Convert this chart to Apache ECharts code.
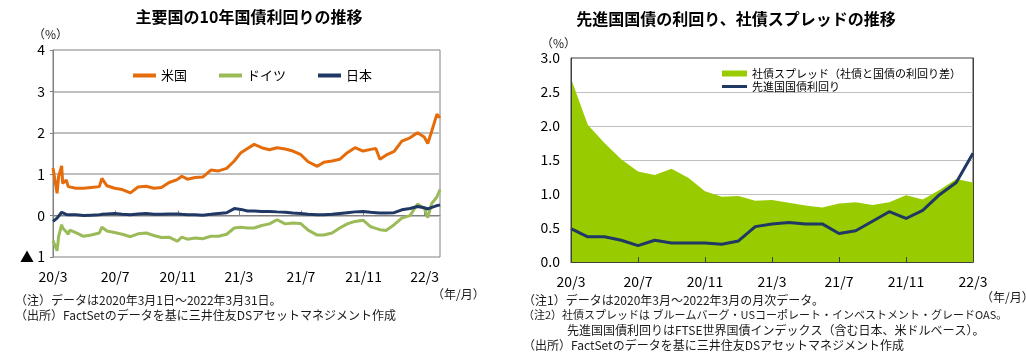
<!DOCTYPE html>
<html><head><meta charset="utf-8">
<script src="https://cdn.jsdelivr.net/npm/echarts@6/dist/echarts.min.js"></script>
<style>html,body{margin:0;padding:0;background:#fff}#c{width:1026px;height:358px}</style>
</head><body><div id="c"></div>
<script>
// ---- Left chart: 10-year government bond yields (%) ----
const dates = ['2020-03-01','2020-03-09','2020-03-12','2020-03-18','2020-03-20','2020-03-27','2020-03-31','2020-04-03','2020-04-15','2020-04-30','2020-05-15','2020-05-31','2020-06-05','2020-06-15','2020-06-30','2020-07-15','2020-07-31','2020-08-15','2020-08-31','2020-09-15','2020-09-30','2020-10-15','2020-10-31','2020-11-09','2020-11-20','2020-12-05','2020-12-20','2021-01-05','2021-01-20','2021-02-05','2021-02-20','2021-03-05','2021-03-18','2021-03-31','2021-04-15','2021-04-30','2021-05-15','2021-05-31','2021-06-15','2021-06-30','2021-07-15','2021-08-02','2021-08-15','2021-08-31','2021-09-15','2021-09-30','2021-10-15','2021-10-31','2021-11-15','2021-11-25','2021-12-03','2021-12-15','2021-12-31','2022-01-15','2022-01-31','2022-02-15','2022-02-28','2022-03-07','2022-03-15','2022-03-25','2022-03-31'];
const usYield = [1.15,0.54,0.94,1.20,0.78,0.86,0.70,0.66,0.66,0.66,0.68,0.70,0.90,0.72,0.66,0.63,0.55,0.69,0.71,0.66,0.68,0.80,0.87,0.95,0.88,0.92,0.93,1.10,1.08,1.14,1.32,1.52,1.62,1.72,1.64,1.59,1.64,1.61,1.56,1.48,1.30,1.19,1.29,1.32,1.36,1.52,1.64,1.56,1.60,1.62,1.36,1.46,1.55,1.80,1.88,2.00,1.90,1.74,2.05,2.45,2.36];
const deYield = [-0.60,-0.85,-0.51,-0.22,-0.30,-0.39,-0.45,-0.35,-0.41,-0.50,-0.47,-0.42,-0.28,-0.37,-0.41,-0.45,-0.51,-0.44,-0.42,-0.48,-0.53,-0.52,-0.62,-0.52,-0.57,-0.54,-0.56,-0.50,-0.50,-0.45,-0.30,-0.28,-0.30,-0.30,-0.24,-0.20,-0.10,-0.20,-0.18,-0.19,-0.35,-0.47,-0.47,-0.42,-0.30,-0.20,-0.14,-0.11,-0.27,-0.31,-0.34,-0.36,-0.22,-0.06,0.00,0.28,0.18,-0.05,0.30,0.45,0.63];
const jpYield = [-0.14,-0.06,-0.02,0.08,0.10,0.03,0.02,0.02,0.02,0.00,0.01,0.02,0.03,0.04,0.05,0.03,0.02,0.04,0.05,0.03,0.03,0.04,0.04,0.03,0.02,0.02,0.01,0.03,0.05,0.07,0.17,0.15,0.11,0.11,0.10,0.10,0.09,0.08,0.06,0.05,0.03,0.02,0.02,0.03,0.05,0.07,0.09,0.10,0.08,0.07,0.06,0.06,0.07,0.14,0.17,0.22,0.19,0.16,0.20,0.24,0.26];
const leftTickDates = ['2020-03-01','2020-07-01','2020-11-01','2021-03-01','2021-07-01','2021-11-01','2022-03-01'];
const leftStart = '2020-03-01', leftEnd = '2022-03-31';
const leftNames = ['米国','ドイツ','日本'];

// ---- Right chart: monthly ----
const months = ['20/3','20/4','20/5','20/6','20/7','20/8','20/9','20/10','20/11','20/12','21/1','21/2','21/3','21/4','21/5','21/6','21/7','21/8','21/9','21/10','21/11','21/12','22/1','22/2','22/3'];
const corpSpread = [2.70,2.02,1.75,1.51,1.33,1.28,1.37,1.24,1.04,0.96,0.97,0.90,0.91,0.87,0.83,0.80,0.86,0.88,0.84,0.88,0.98,0.92,1.06,1.22,1.17];
const devYield = [0.49,0.37,0.37,0.32,0.24,0.32,0.28,0.28,0.28,0.26,0.31,0.52,0.56,0.58,0.56,0.56,0.42,0.46,0.60,0.74,0.64,0.76,0.99,1.17,1.60];
const rightNames = ['社債スプレッド（社債と国債の利回り差）','先進国国債利回り'];

const FONT = '"Noto Sans CJK JP", "Noto Sans", sans-serif';
const DAY = 86400000;
function parseD(s){const p=s.split('-');return Date.UTC(+p[0],+p[1]-1,+p[2]);}
const t0 = parseD(leftStart);
const dayOf = s => Math.round((parseD(s)-t0)/DAY);
const tickDays = leftTickDates.map(dayOf);
const pair = vals => dates.map((d,i)=>[dayOf(d),vals[i]]);
function dayLabel(v){const d=new Date(t0+v*DAY);return (d.getUTCFullYear()%100)+'/'+(d.getUTCMonth()+1);}

function txt(x,y,text,size,opt){
  opt=opt||{};
  return {type:'text',x:x,y:y,silent:true,z:10,style:{text:text,fontSize:size,fontFamily:FONT,fontWeight:opt.bold?'bold':'normal',fill:opt.color||'#1a1a1a',align:opt.align||'left',verticalAlign:'middle'}};
}

const chart = echarts.init(document.getElementById('c'));
chart.setOption({
  animation:false,
  textStyle:{fontFamily:FONT},
  grid:[
    {left:53,top:50,width:387,height:207,show:true,borderColor:'#808080',borderWidth:1,backgroundColor:'transparent'},
    {left:571,top:58,width:402,height:204,show:true,borderColor:'#404040',borderWidth:1,backgroundColor:'transparent'}
  ],
  xAxis:[
    {type:'value',gridIndex:0,min:0,max:dayOf(leftEnd),
     axisLine:{lineStyle:{color:'#808080',width:1}},
     axisTick:{show:true,inside:true,length:5,customValues:tickDays,lineStyle:{color:'#808080'}},
     axisLabel:{customValues:tickDays,fontSize:14,color:'#000',margin:13,formatter:dayLabel},
     splitLine:{show:false}},
    {type:'category',gridIndex:1,data:months,boundaryGap:false,z:4,
     axisLine:{lineStyle:{color:'#404040',width:1}},
     axisTick:{show:true,inside:true,length:5,interval:3,lineStyle:{color:'#404040'}},
     axisLabel:{interval:3,fontSize:14,color:'#000',margin:13},
     splitLine:{show:false}}
  ],
  yAxis:[
    {type:'value',gridIndex:0,min:-1,max:4,interval:1,
     axisLine:{show:true,lineStyle:{color:'#808080'}},
     axisTick:{show:true,length:3,lineStyle:{color:'#808080'}},
     axisLabel:{fontSize:14,color:'#000',margin:8,formatter:function(v){return v<0?'▲ '+(-v):String(v);}},
     splitLine:{show:true,showMinLine:false,showMaxLine:false,lineStyle:{color:'#BFBFBF',width:2}}},
    {type:'value',gridIndex:1,min:0,max:3,interval:0.5,
     axisLine:{show:false},axisTick:{show:false},
     axisLabel:{fontSize:14,color:'#000',margin:11,formatter:function(v){return v.toFixed(1);}},
     splitLine:{show:true,showMinLine:false,showMaxLine:false,lineStyle:{color:'#BFBFBF',width:1}}},
    {type:'value',gridIndex:1,min:0,max:3,interval:0.5,position:'left',z:4,
     axisLine:{show:true,lineStyle:{color:'#404040'}},axisTick:{show:false},axisLabel:{show:false},splitLine:{show:false}},
    {type:'value',gridIndex:1,min:0,max:3,interval:0.5,position:'right',z:4,
     axisLine:{show:true,lineStyle:{color:'#404040'}},axisTick:{show:false},axisLabel:{show:false},splitLine:{show:false}}
  ],
  legend:[
    {data:leftNames,left:128,top:64,itemWidth:23,itemHeight:4,itemGap:32,
     icon:'path://M0,0L23,0L23,4L0,4Z',textStyle:{fontSize:13,color:'#000',fontFamily:FONT}},
    {data:[{name:rightNames[0],icon:'rect'},{name:rightNames[1],icon:'path://M0,0L25,0L25,3L0,3Z'}],
     orient:'vertical',left:717,top:63,itemWidth:25,itemHeight:6,itemGap:2,
     textStyle:{fontSize:11,color:'#000',fontFamily:FONT}}
  ],
  series:[
    {name:leftNames[0],type:'line',xAxisIndex:0,yAxisIndex:0,data:pair(usYield),showSymbol:false,symbol:'none',
     lineStyle:{color:'#E46C0A',width:3},itemStyle:{color:'#E46C0A'}},
    {name:leftNames[1],type:'line',xAxisIndex:0,yAxisIndex:0,data:pair(deYield),showSymbol:false,symbol:'none',
     lineStyle:{color:'#9BBB59',width:3},itemStyle:{color:'#9BBB59'}},
    {name:leftNames[2],type:'line',xAxisIndex:0,yAxisIndex:0,data:pair(jpYield),showSymbol:false,symbol:'none',
     lineStyle:{color:'#1F3864',width:3},itemStyle:{color:'#1F3864'}},
    {name:rightNames[0],type:'line',xAxisIndex:1,yAxisIndex:1,data:corpSpread,showSymbol:false,symbol:'none',
     lineStyle:{width:0,color:'#99CC00'},itemStyle:{color:'#99CC00'},areaStyle:{color:'#99CC00',opacity:1}},
    {name:rightNames[1],type:'line',xAxisIndex:1,yAxisIndex:1,data:devYield,showSymbol:false,symbol:'none',
     lineStyle:{color:'#1F3864',width:3},itemStyle:{color:'#1F3864'}}
  ],
  graphic:[
    txt(249,17,'主要国の10年国債利回りの推移',16,{bold:true,align:'center',color:'#000'}),
    txt(736,19,'先進国国債の利回り、社債スプレッドの推移',16,{bold:true,align:'center',color:'#000'}),
    txt(33,34,'（%）',12),
    txt(541,43,'（%）',12),
    txt(432,294,'（年/月）',12),
    txt(981,297,'（年/月）',12),
    txt(15,300,'（注）データは2020年3月1日～2022年3月31日。',12),
    txt(15,315,'（出所）FactSetのデータを基に三井住友DSアセットマネジメント作成',12),
    txt(523,300,'（注1）データは2020年3月～2022年3月の月次データ。',12),
    txt(523,315,'（注2）社債スプレッドは ブルームバーグ・USコーポレート・インベストメント・グレードOAS。',11),
    txt(567,330,'先進国国債利回りはFTSE世界国債インデックス（含む日本、米ドルベース）。',12),
    txt(523,345,'（出所）FactSetのデータを基に三井住友DSアセットマネジメント作成',12)
  ]
});
</script></body></html>
